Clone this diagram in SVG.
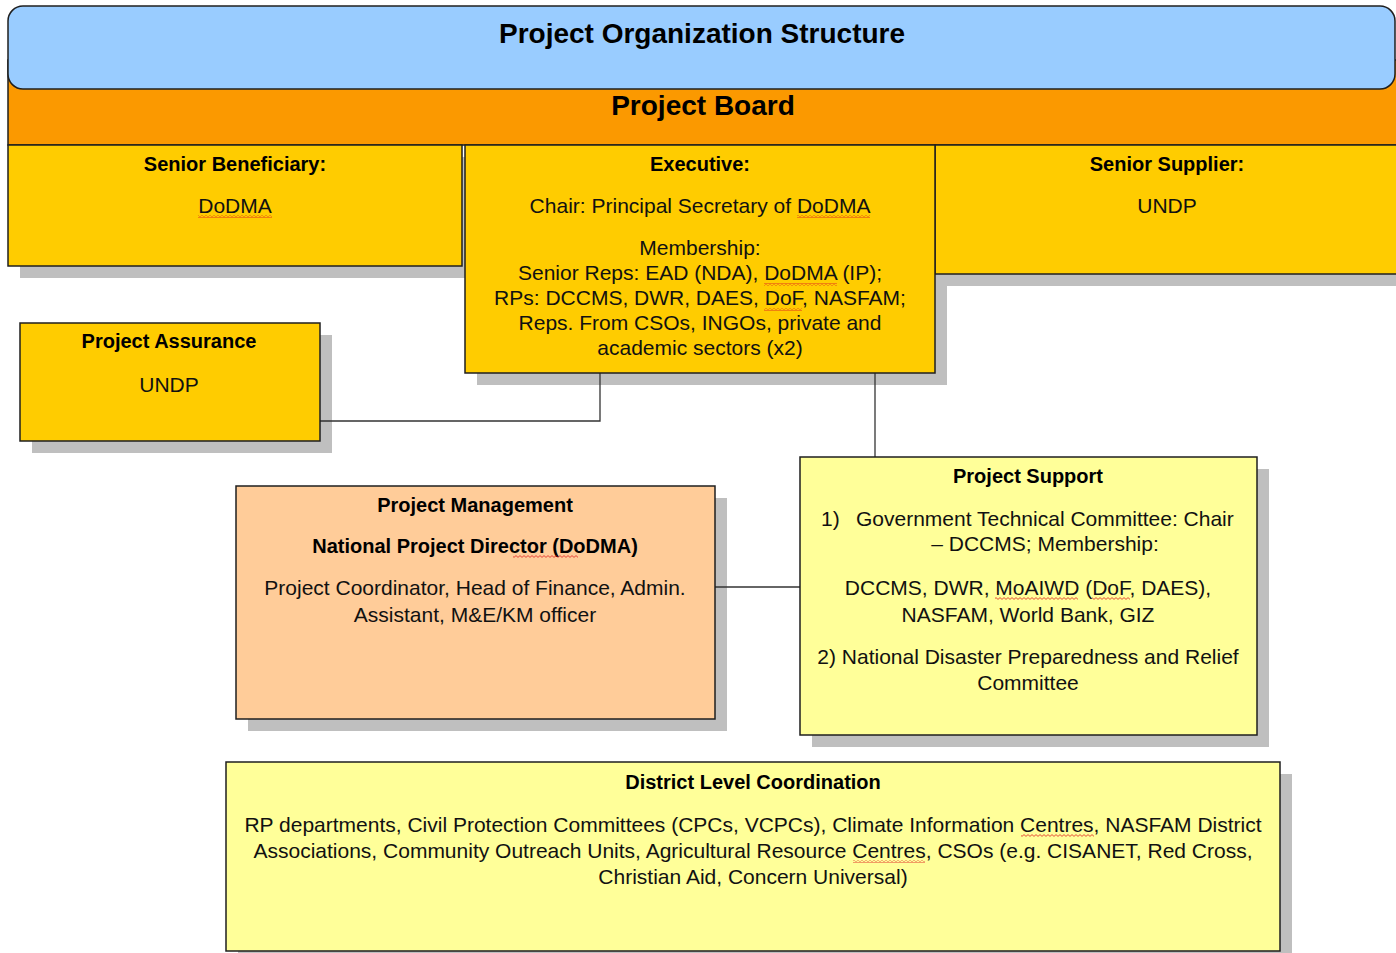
<svg xmlns="http://www.w3.org/2000/svg" width="1396" height="953" viewBox="0 0 1396 953">
<defs>
<style>
.box{stroke:#1f1f1f;stroke-width:1.5}
.sh{fill:#bfbfbf}
.gold{fill:#ffcc00}
.peach{fill:#ffcc99}
.lyel{fill:#ffff99}
.h{font-family:"Liberation Sans",Arial,sans-serif;font-weight:bold;font-size:20px;fill:#000;text-anchor:middle}
.t{font-family:"Liberation Sans",Arial,sans-serif;font-size:21px;fill:#111;text-anchor:middle}
.ts{font-family:"Liberation Sans",Arial,sans-serif;font-size:21px;fill:#111}
.big{font-family:"Liberation Sans",Arial,sans-serif;font-weight:bold;font-size:28px;fill:#000;text-anchor:middle}
.conn{stroke:#333;stroke-width:1.3;fill:none}
.sq{fill:url(#sq)}
</style>
<pattern id="sq" width="4" height="3" patternUnits="userSpaceOnUse">
<path d="M0 0.6 L2 2.4 L4 0.6" stroke="#e02020" stroke-width="0.8" fill="none"/>
</pattern>
</defs>
<rect width="1396" height="953" fill="#fff"/>

<g id="header">
<rect x="8" y="60" width="1400" height="85" fill="#fb9900" class="box"/>
<rect x="8" y="6" width="1387" height="83" rx="15" fill="#99ccff" class="box"/>
<text x="702" y="43" class="big">Project Organization Structure</text>
<text x="703" y="115" class="big">Project Board</text>
</g>

<g id="shadows">
<rect x="20" y="157" width="454" height="121" class="sh"/>
<rect x="477" y="157" width="470" height="228" class="sh"/>
<rect x="947" y="157" width="460" height="129" class="sh"/>
<rect x="32" y="335" width="300" height="118" class="sh"/>
<rect x="248" y="498" width="479" height="233" class="sh"/>
<rect x="812" y="469" width="457" height="278" class="sh"/>
<rect x="238" y="774" width="1054" height="189" class="sh"/>
</g>

<g id="connectors">
<polyline points="318,421 600,421 600,372" class="conn"/>
<line x1="875" y1="373" x2="875" y2="457" class="conn"/>
<line x1="715" y1="587" x2="800" y2="587" class="conn"/>
</g>

<g id="senior-beneficiary">
<rect x="8" y="145" width="454" height="121" class="box gold"/>
<text x="235" y="171" class="h">Senior Beneficiary:</text>
<text x="235" y="213" class="t">DoDMA</text>
<rect x="198" y="215" width="74" height="3" class="sq"/>
</g>

<g id="senior-supplier">
<rect x="935" y="145" width="470" height="129" class="box gold"/>
<text x="1167" y="171" class="h">Senior Supplier:</text>
<text x="1167" y="213" class="t">UNDP</text>
</g>

<g id="executive">
<rect x="465" y="145" width="470" height="228" class="box gold"/>
<text x="700" y="171" class="h">Executive:</text>
<text x="700" y="213" class="t">Chair: Principal Secretary of DoDMA</text>
<text x="700" y="255" class="t">Membership:</text>
<text x="700" y="280" class="t">Senior Reps: EAD (NDA), DoDMA (IP);</text>
<text x="700" y="305" class="t">RPs: DCCMS, DWR, DAES, DoF, NASFAM;</text>
<text x="700" y="330" class="t">Reps. From CSOs, INGOs, private and</text>
<text x="700" y="355" class="t">academic sectors (x2)</text>
<rect x="797" y="215" width="73" height="3" class="sq"/>
<rect x="764" y="283" width="73" height="3" class="sq"/>
<rect x="764" y="308" width="38" height="3" class="sq"/>
</g>

<g id="project-assurance">
<rect x="20" y="323" width="300" height="118" class="box gold"/>
<text x="169" y="348" class="h">Project Assurance</text>
<text x="169" y="392" class="t">UNDP</text>
</g>

<g id="project-management">
<rect x="236" y="486" width="479" height="233" class="box peach"/>
<text x="475" y="512" class="h">Project Management</text>
<text x="475" y="553" class="h">National Project Director (DoDMA)</text>
<text x="475" y="595" class="t">Project Coordinator, Head of Finance, Admin.</text>
<text x="475" y="622" class="t">Assistant, M&amp;E/KM officer</text>
<rect x="513" y="555" width="65" height="3" class="sq"/>
</g>

<g id="project-support">
<rect x="800" y="457" width="457" height="278" class="box lyel"/>
<text x="1028" y="483" class="h">Project Support</text>
<text x="821" y="526" class="ts">1)</text>
<text x="856" y="526" class="ts">Government Technical Committee: Chair</text>
<text x="1045" y="551" class="t">– DCCMS; Membership:</text>
<text x="1028" y="595" class="t">DCCMS, DWR, MoAIWD (DoF, DAES),</text>
<text x="1028" y="622" class="t">NASFAM, World Bank, GIZ</text>
<text x="1028" y="664" class="t">2) National Disaster Preparedness and Relief</text>
<text x="1028" y="690" class="t">Committee</text>
<rect x="995" y="597" width="83" height="3" class="sq"/>
<rect x="1092" y="597" width="38" height="3" class="sq"/>
</g>

<g id="district-level">
<rect x="226" y="762" width="1054" height="189" class="box lyel"/>
<text x="753" y="789" class="h">District Level Coordination</text>
<text x="753" y="832" class="t">RP departments, Civil Protection Committees (CPCs, VCPCs), Climate Information Centres, NASFAM District</text>
<text x="753" y="858" class="t">Associations, Community Outreach Units, Agricultural Resource Centres, CSOs (e.g. CISANET, Red Cross,</text>
<text x="753" y="884" class="t">Christian Aid, Concern Universal)</text>
<rect x="1021" y="834" width="73" height="3" class="sq"/>
<rect x="853" y="860" width="72" height="3" class="sq"/>
</g>
</svg>
